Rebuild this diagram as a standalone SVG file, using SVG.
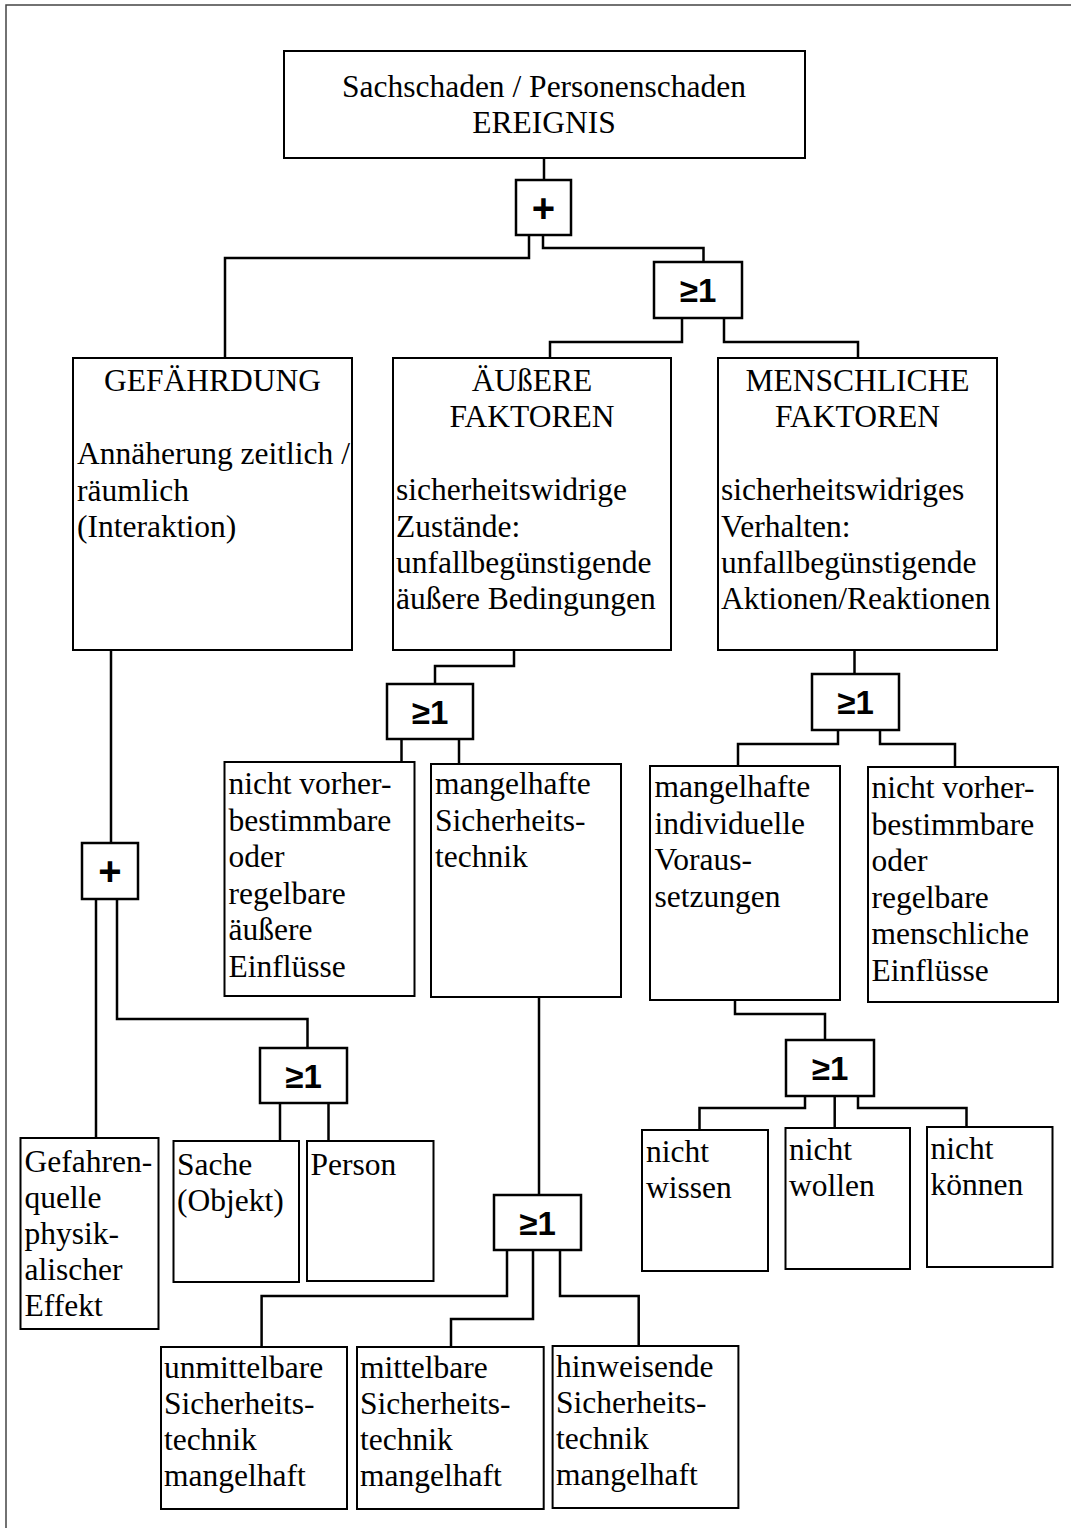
<svg xmlns="http://www.w3.org/2000/svg" width="1071" height="1528" viewBox="0 0 1071 1528">
<style>
.frame{fill:none;stroke:#444;stroke-width:1.5}
.box{fill:#fff;stroke:#000;stroke-width:2}
.gate{fill:#fff;stroke:#000;stroke-width:2.5}
.con{fill:none;stroke:#000;stroke-width:2.5}
.t{font-family:"Liberation Serif","Times New Roman",serif;font-size:31.5px;fill:#000}
.c{text-anchor:middle}
.g{font-family:"Liberation Sans",Arial,sans-serif;font-weight:bold;font-size:33px;fill:#000;text-anchor:middle}
.p{font-family:"Liberation Sans",Arial,sans-serif;font-weight:bold;font-size:40px;fill:#000;text-anchor:middle}
</style>
<rect width="1071" height="1528" fill="#fff"/>
<rect class="frame" x="6" y="5" width="1090" height="1550"/>

<g id="connectors">
<polyline class="con" points="544,158 544,180"/>
<polyline class="con" points="529,235 529,258 225,258 225,358"/>
<polyline class="con" points="543,235 543,248 703.5,248 703.5,262"/>
<polyline class="con" points="682,318 682,342 550,342 550,358"/>
<polyline class="con" points="724,318 724,342 858,342 858,358"/>
<polyline class="con" points="111,650 111,843"/>
<polyline class="con" points="514,650 514,666 435,666 435,684"/>
<polyline class="con" points="401.5,739 401.5,762"/>
<polyline class="con" points="459,739 459,764"/>
<polyline class="con" points="854.5,650 854.5,674"/>
<polyline class="con" points="838,730 838,744 738,744 738,766"/>
<polyline class="con" points="880,730 880,744 955,744 955,767"/>
<polyline class="con" points="735,1000 735,1014 825,1014 825,1040"/>
<polyline class="con" points="805,1096 805,1108 699.5,1108 699.5,1130"/>
<polyline class="con" points="834.7,1096 834.7,1128"/>
<polyline class="con" points="858,1096 858,1108 966.5,1108 966.5,1127"/>
<polyline class="con" points="96,899 96,1138"/>
<polyline class="con" points="117,899 117,1019 307.5,1019 307.5,1048"/>
<polyline class="con" points="280,1103 280,1141"/>
<polyline class="con" points="328.5,1103 328.5,1141"/>
<polyline class="con" points="539,997 539,1195"/>
<polyline class="con" points="507,1250 507,1296 261.6,1296 261.6,1347"/>
<polyline class="con" points="533,1250 533,1319 451,1319 451,1346"/>
<polyline class="con" points="560,1250 560,1296 638.7,1296 638.7,1346"/>
</g>

<g id="ereignis">
<rect class="box" x="284" y="51" width="521" height="107"/>
<text class="t c" x="544" y="97">Sachschaden / Personenschaden</text>
<text class="t c" x="544" y="133">EREIGNIS</text>
</g>

<g id="gate-plus-1"><rect class="gate" x="516" y="180" width="55" height="55"/><text class="p" x="543.5" y="221.5">+</text></g>
<g id="gate-or-1"><rect class="gate" x="654" y="262" width="88" height="56"/><text class="g" x="698" y="302">≥1</text></g>

<g id="gefaehrdung">
<rect class="box" x="73" y="358" width="279" height="292"/>
<text class="t c" x="212.5" y="391">GEFÄHRDUNG</text>
<text class="t" x="77" y="464">Annäherung zeitlich /</text>
<text class="t" x="77" y="500.5">räumlich</text>
<text class="t" x="77" y="537">(Interaktion)</text>
</g>

<g id="aeussere-faktoren">
<rect class="box" x="393" y="358" width="278" height="292"/>
<text class="t c" x="532" y="391">ÄUßERE</text>
<text class="t c" x="532" y="427">FAKTOREN</text>
<text class="t" x="396" y="500">sicherheitswidrige</text>
<text class="t" x="396" y="537">Zustände:</text>
<text class="t" x="396" y="573">unfallbegünstigende</text>
<text class="t" x="396" y="609">äußere Bedingungen</text>
</g>

<g id="menschliche-faktoren">
<rect class="box" x="718" y="358" width="279" height="292"/>
<text class="t c" x="857.5" y="391">MENSCHLICHE</text>
<text class="t c" x="857.5" y="427">FAKTOREN</text>
<text class="t" x="721" y="500">sicherheitswidriges</text>
<text class="t" x="721" y="537">Verhalten:</text>
<text class="t" x="721" y="573">unfallbegünstigende</text>
<text class="t" x="721" y="609">Aktionen/Reaktionen</text>
</g>

<g id="gate-or-2"><rect class="gate" x="387" y="684" width="86" height="55"/><text class="g" x="430" y="724">≥1</text></g>
<g id="gate-or-3"><rect class="gate" x="812" y="674" width="87" height="56"/><text class="g" x="855.5" y="714">≥1</text></g>
<g id="gate-plus-2"><rect class="gate" x="82" y="843" width="56" height="56"/><text class="p" x="110" y="885">+</text></g>

<g id="nicht-vorher-aeussere">
<rect class="box" x="224.5" y="762" width="190" height="234"/>
<text class="t" x="228.5" y="794">nicht vorher-</text>
<text class="t" x="228.5" y="830.5">bestimmbare</text>
<text class="t" x="228.5" y="867">oder</text>
<text class="t" x="228.5" y="903.5">regelbare</text>
<text class="t" x="228.5" y="940">äußere</text>
<text class="t" x="228.5" y="976.5">Einflüsse</text>
</g>

<g id="mangelhafte-sicherheitstechnik">
<rect class="box" x="431" y="764" width="190" height="233"/>
<text class="t" x="435" y="794">mangelhafte</text>
<text class="t" x="435" y="830.5">Sicherheits-</text>
<text class="t" x="435" y="867">technik</text>
</g>

<g id="mangelhafte-voraussetzungen">
<rect class="box" x="650" y="766" width="190" height="234"/>
<text class="t" x="654.5" y="797">mangelhafte</text>
<text class="t" x="654.5" y="833.5">individuelle</text>
<text class="t" x="654.5" y="870">Voraus-</text>
<text class="t" x="654.5" y="906.5">setzungen</text>
</g>

<g id="nicht-vorher-menschliche">
<rect class="box" x="868" y="767" width="190" height="235"/>
<text class="t" x="871.5" y="798">nicht vorher-</text>
<text class="t" x="871.5" y="834.5">bestimmbare</text>
<text class="t" x="871.5" y="871">oder</text>
<text class="t" x="871.5" y="907.5">regelbare</text>
<text class="t" x="871.5" y="944">menschliche</text>
<text class="t" x="871.5" y="980.5">Einflüsse</text>
</g>

<g id="gate-or-4"><rect class="gate" x="786" y="1040" width="88" height="56"/><text class="g" x="830" y="1080">≥1</text></g>
<g id="gate-or-5"><rect class="gate" x="260" y="1048" width="87" height="55"/><text class="g" x="303.5" y="1088">≥1</text></g>
<g id="gate-or-6"><rect class="gate" x="494" y="1195" width="87" height="55"/><text class="g" x="537.5" y="1235">≥1</text></g>

<g id="gefahrenquelle">
<rect class="box" x="20.5" y="1138" width="138" height="191"/>
<text class="t" x="24.5" y="1172">Gefahren-</text>
<text class="t" x="24.5" y="1208">quelle</text>
<text class="t" x="24.5" y="1244">physik-</text>
<text class="t" x="24.5" y="1280">alischer</text>
<text class="t" x="24.5" y="1316">Effekt</text>
</g>

<g id="sache">
<rect class="box" x="173.5" y="1141" width="125.5" height="141"/>
<text class="t" x="177" y="1175">Sache</text>
<text class="t" x="177" y="1211">(Objekt)</text>
</g>

<g id="person">
<rect class="box" x="307" y="1141" width="126.5" height="140"/>
<text class="t" x="310.5" y="1175">Person</text>
</g>

<g id="nicht-wissen">
<rect class="box" x="642" y="1130" width="126" height="141"/>
<text class="t" x="646" y="1162">nicht</text>
<text class="t" x="646" y="1198">wissen</text>
</g>

<g id="nicht-wollen">
<rect class="box" x="785.5" y="1128" width="124.5" height="141"/>
<text class="t" x="789" y="1160">nicht</text>
<text class="t" x="789" y="1196">wollen</text>
</g>

<g id="nicht-koennen">
<rect class="box" x="927" y="1127" width="125.5" height="140"/>
<text class="t" x="930.5" y="1159">nicht</text>
<text class="t" x="930.5" y="1195">können</text>
</g>

<g id="unmittelbare">
<rect class="box" x="161" y="1347" width="186" height="162"/>
<text class="t" x="164" y="1378">unmittelbare</text>
<text class="t" x="164" y="1414">Sicherheits-</text>
<text class="t" x="164" y="1450">technik</text>
<text class="t" x="164" y="1486">mangelhaft</text>
</g>

<g id="mittelbare">
<rect class="box" x="357" y="1347" width="186.7" height="162"/>
<text class="t" x="360" y="1378">mittelbare</text>
<text class="t" x="360" y="1414">Sicherheits-</text>
<text class="t" x="360" y="1450">technik</text>
<text class="t" x="360" y="1486">mangelhaft</text>
</g>

<g id="hinweisende">
<rect class="box" x="552.6" y="1346" width="185.8" height="162"/>
<text class="t" x="556" y="1377">hinweisende</text>
<text class="t" x="556" y="1413">Sicherheits-</text>
<text class="t" x="556" y="1449">technik</text>
<text class="t" x="556" y="1485">mangelhaft</text>
</g>
</svg>
